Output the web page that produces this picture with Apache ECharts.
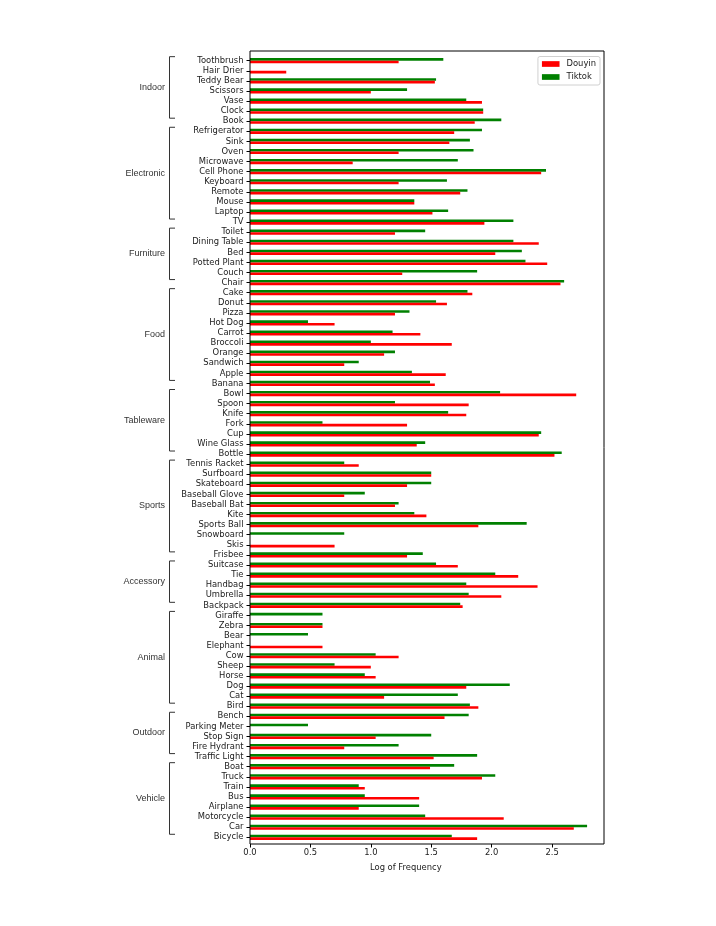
<!DOCTYPE html>
<html lang="en">
<head>
    <meta charset="UTF-8">
    <title>Douyin vs Tiktok</title>
    <script src="https://cdn.jsdelivr.net/npm/echarts@6.0.0/dist/echarts.min.js"></script>
    <style>
        body { margin: 0; background: #fff; }
    </style>
</head>
<body>
<div id="main" style="width: 716px;height:926px;"></div>
<script type="text/javascript">
    // categories from top to bottom
    var categories = ['Toothbrush', 'Hair Drier', 'Teddy Bear', 'Scissors', 'Vase', 'Clock', 'Book',
        'Refrigerator', 'Sink', 'Oven', 'Microwave', 'Cell Phone', 'Keyboard', 'Remote', 'Mouse', 'Laptop', 'TV',
        'Toilet', 'Dining Table', 'Bed', 'Potted Plant', 'Couch', 'Chair',
        'Cake', 'Donut', 'Pizza', 'Hot Dog', 'Carrot', 'Broccoli', 'Orange', 'Sandwich', 'Apple', 'Banana',
        'Bowl', 'Spoon', 'Knife', 'Fork', 'Cup', 'Wine Glass', 'Bottle',
        'Tennis Racket', 'Surfboard', 'Skateboard', 'Baseball Glove', 'Baseball Bat', 'Kite', 'Sports Ball', 'Snowboard', 'Skis', 'Frisbee',
        'Suitcase', 'Tie', 'Handbag', 'Umbrella', 'Backpack',
        'Giraffe', 'Zebra', 'Bear', 'Elephant', 'Cow', 'Sheep', 'Horse', 'Dog', 'Cat', 'Bird',
        'Bench', 'Parking Meter', 'Stop Sign', 'Fire Hydrant', 'Traffic Light',
        'Boat', 'Truck', 'Train', 'Bus', 'Airplane', 'Motorcycle', 'Car', 'Bicycle'];

    var douyin = [1.23, 0.30, 1.53, 1.00, 1.92, 1.93, 1.86,
        1.69, 1.65, 1.23, 0.85, 2.41, 1.23, 1.74, 1.36, 1.51, 1.94,
        1.20, 2.39, 2.03, 2.46, 1.26, 2.57,
        1.84, 1.63, 1.20, 0.70, 1.41, 1.67, 1.11, 0.78, 1.62, 1.53,
        2.70, 1.81, 1.79, 1.30, 2.39, 1.38, 2.52,
        0.90, 1.50, 1.30, 0.78, 1.20, 1.46, 1.89, 0, 0.70, 1.30,
        1.72, 2.22, 2.38, 2.08, 1.76,
        0, 0.60, 0, 0.60, 1.23, 1.00, 1.04, 1.79, 1.11, 1.89,
        1.61, 0, 1.04, 0.78, 1.52,
        1.49, 1.92, 0.95, 1.40, 0.90, 2.10, 2.68, 1.88];

    var tiktok = [1.60, 0, 1.54, 1.30, 1.79, 1.93, 2.08,
        1.92, 1.82, 1.85, 1.72, 2.45, 1.63, 1.80, 1.36, 1.64, 2.18,
        1.45, 2.18, 2.25, 2.28, 1.88, 2.60,
        1.80, 1.54, 1.32, 0.48, 1.18, 1.00, 1.20, 0.90, 1.34, 1.49,
        2.07, 1.20, 1.64, 0.60, 2.41, 1.45, 2.58,
        0.78, 1.50, 1.50, 0.95, 1.23, 1.36, 2.29, 0.78, 0, 1.43,
        1.54, 2.03, 1.79, 1.81, 1.74,
        0.60, 0.60, 0.48, 0, 1.04, 0.70, 0.95, 2.15, 1.72, 1.82,
        1.81, 0.48, 1.50, 1.23, 1.88,
        1.69, 2.03, 0.90, 0.95, 1.40, 1.45, 2.79, 1.67];

    var groupNames = ['Indoor', 'Electronic', 'Furniture', 'Food', 'Tableware', 'Sports', 'Accessory', 'Animal', 'Outdoor', 'Vehicle'];
    var groupSizes = [7, 10, 6, 10, 7, 10, 5, 10, 5, 8];

    var xTicks = [0, 0.5, 1.0, 1.5, 2.0, 2.5];
    var xMax = 2.93;

    // bracket spans [x, firstIndex, lastIndex]
    var groupSpans = [];
    var start = 0;
    for (var i = 0; i < groupSizes.length; i++) {
        groupSpans.push([0, start, start + groupSizes[i] - 1]);
        start += groupSizes[i];
    }

    var tickFont = 'DejaVu Sans';

    function renderBracket(params, api) {
        var first = api.value(1);
        var last = api.value(2);
        var band = api.size([0, 1])[1];
        var p0 = api.coord([0, first]);
        var p1 = api.coord([0, last]);
        var yTop = p0[1] - 0.4 * band;
        var yBot = p1[1] - 0.3 * band;
        var xl = Math.round(p0[0] - 81.5) + 0.5;
        var xr = xl + 5.5;
        return {
            type: 'group',
            children: [{
                type: 'polyline',
                shape: { points: [[xr, yTop], [xl, yTop], [xl, yBot], [xr, yBot]] },
                style: { stroke: '#333', fill: null, lineWidth: 1 }
            }, {
                type: 'text',
                style: {
                    x: xl - 4.5, y: (yTop + yBot) / 2,
                    text: groupNames[params.dataIndex],
                    align: 'right', verticalAlign: 'middle',
                    fontSize: 9, fontFamily: 'Liberation Sans', fill: '#333'
                }
            }]
        };
    }

    var myChart = echarts.init(document.getElementById('main'));

    var option = {
        animation: false,
        backgroundColor: '#fff',
        legend: {
            data: ['Douyin', 'Tiktok'],
            orient: 'vertical',
            right: 116,
            top: 56.5,
            padding: [2.5, 4, 3, 4],
            itemWidth: 17.6,
            itemHeight: 5.7,
            itemGap: 3,
            icon: 'rect',
            borderColor: '#d0d0d0',
            borderWidth: 1,
            borderRadius: 2,
            backgroundColor: '#fff',
            textStyle: { fontFamily: tickFont, fontSize: 8.4, color: '#1a1a1a', lineHeight: 10, padding: [0, 0, 0, 2] }
        },
        grid: [
            { left: 250, width: 354, top: 55.66, height: 786.7 },
            { left: 250, width: 354, top: 51, height: 793, show: true, borderColor: '#000', borderWidth: 1, backgroundColor: 'transparent', z: 5 }
        ],
        xAxis: [
            { type: 'value', gridIndex: 0, min: 0, max: xMax, show: false },
            {
                type: 'value', gridIndex: 1, min: 0, max: xMax, interval: 0.5,
                splitLine: { show: false },
                axisLine: { show: false },
                axisTick: { show: true, length: 3.5, customValues: xTicks, lineStyle: { color: '#000' } },
                axisLabel: {
                    customValues: xTicks, margin: 5,
                    fontFamily: tickFont, fontSize: 8.4, color: '#1a1a1a',
                    formatter: function (v) { return v.toFixed(1); }
                }
            }
        ],
        yAxis: [
            {
                type: 'category', gridIndex: 0, data: categories, inverse: true,
                axisLine: { show: false },
                axisTick: { show: true, alignWithLabel: true, length: 3.5, lineStyle: { color: '#000' } },
                axisLabel: { interval: 0, margin: 6.5, fontFamily: tickFont, fontSize: 8.4, color: '#1a1a1a' }
            },
            { type: 'value', gridIndex: 1, show: false }
        ],
        graphic: [{
            type: 'text',
            left: 404 - 34, top: 864,
            style: { text: 'Log of Frequency', fontFamily: tickFont, fontSize: 8.4, fill: '#1a1a1a' }
        }],
        series: [
            {
                name: 'Tiktok', type: 'bar', xAxisIndex: 0, yAxisIndex: 0,
                data: tiktok, barWidth: 2.6, barGap: '0%',
                itemStyle: { color: '#008000' }
            },
            {
                name: 'Douyin', type: 'bar', xAxisIndex: 0, yAxisIndex: 0,
                data: douyin, barWidth: 2.6, barGap: '0%',
                itemStyle: { color: '#ff0000' }
            },
            {
                type: 'custom', xAxisIndex: 0, yAxisIndex: 0,
                silent: true, clip: false,
                encode: { x: 0, y: 1 },
                data: groupSpans,
                renderItem: renderBracket
            }
        ]
    };
    myChart.setOption(option);
</script>
</body>
</html>
